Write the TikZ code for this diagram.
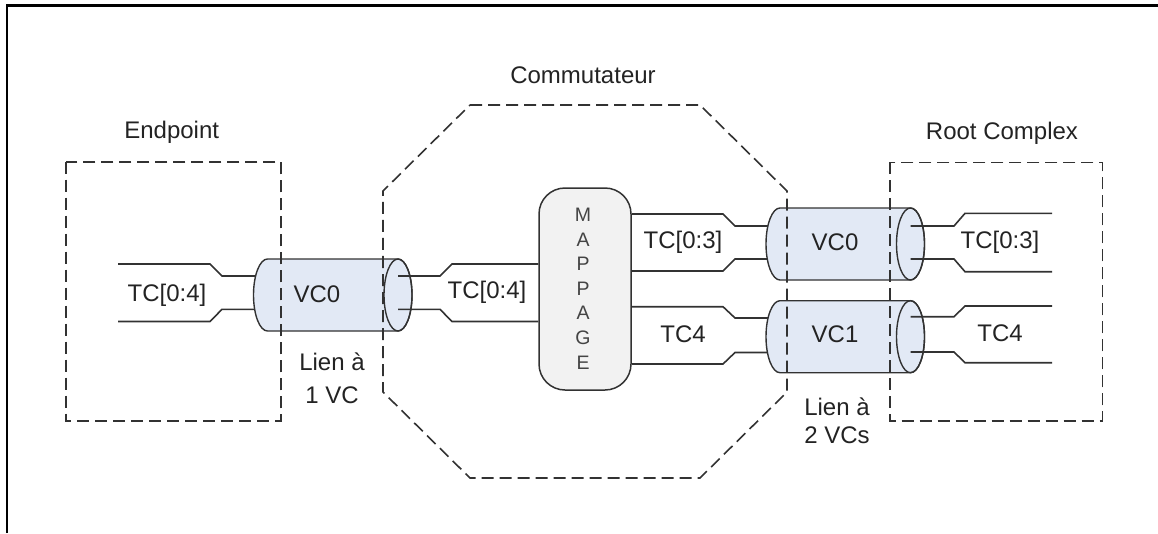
\documentclass[tikz,border=0pt]{standalone}
\usepackage{fontspec}
\setmainfont{Liberation Sans}
\definecolor{linec}{RGB}{50,50,50}
\definecolor{textc}{RGB}{35,35,35}
\definecolor{cylfill}{RGB}{226,233,245}
\definecolor{mapfill}{RGB}{242,242,242}
\newcommand\mycyl[4]{% name, xL, xR, cy
  \path[cylstyle] (#2,#4-36) -- (#3,#4-36)
    arc[start angle=-90,end angle=90,x radius=14,y radius=36]
    -- (#2,#4+36)
    arc[start angle=90,end angle=270,x radius=14,y radius=36] -- cycle;
  \draw[linec,line width=1.4pt] (#3,#4) ellipse[x radius=14,y radius=36];
  \coordinate (#1L) at (#2,#4);
  \coordinate (#1R) at (#3,#4);}
\begin{document}
\begin{tikzpicture}[x=1pt,y=-1pt,
  lin/.style={draw=linec,line width=1.6pt},
  dsh/.style={draw=linec,line width=1.6pt,dash pattern=on 12pt off 6pt},
  lbl/.style={text=textc,font=\fontsize{24}{27}\selectfont,inner sep=0pt},
  cylstyle/.style={fill=cylfill,draw=linec,line width=1.4pt}]
\useasboundingbox (0,0) rectangle (1158,533);
% frame
\draw[black,line width=2.2pt] (7.3,533) -- (7.3,5.5) -- (1158,5.5);

% incoming lines (drawn under cylinders)
\coordinate (ea) at (118,264);
\coordinate (eb) at (118,321.5);
\draw[lin] (ea) -- (210,264) -- (222,276) -- (267.5,276);
\draw[lin] (eb) -- (210,321.5) -- (222,309.3) -- (267.5,309.3);

% mappage box
\node[draw=linec,fill=mapfill,line width=1.5pt,rounded corners=26pt,
  minimum width=92pt,minimum height=202pt,inner sep=0pt] (map) at (585,289) {};
\node[text=textc!85!white,font=\fontsize{19.5}{24.6}\selectfont,align=center,inner sep=0pt]
  (maptxt) at (583,288.5) {M\\A\\P\\P\\A\\G\\E};

% lines map -> right cylinders (under cylinders)
\draw[lin] (map.east |- 0,214) -- (723,214) -- (735,226) -- (780,226);
\draw[lin] (map.east |- 0,271) -- (723,271) -- (735,259) -- (780,259);
\draw[lin] (map.east |- 0,306.7) -- (723,306.7) -- (735,318) -- (780,318);
\draw[lin] (map.east |- 0,364) -- (723,364) -- (735,352.5) -- (780,352.5);

% cylinders
\mycyl{ca}{267.5}{398}{295}
\mycyl{cb}{780}{910.5}{244}
\mycyl{cc}{780}{910.5}{336.7}

% outgoing lines
\draw[lin] (caR |- 0,276) -- (440,276) -- (452,264) -- (map.west |- 0,264);
\draw[lin] (caR |- 0,309.3) -- (440,309.3) -- (452,321.5) -- (map.west |- 0,321.5);
\draw[lin] (cbR |- 0,226) -- (954,226) -- (965,213.3) -- (1052,213.3);
\draw[lin] (cbR |- 0,259) -- (954,259) -- (965,271.7) -- (1052,271.7);
\draw[lin] (ccR |- 0,316.7) -- (954,316.7) -- (965,306) -- (1052,306);
\draw[lin] (ccR |- 0,352) -- (954,352) -- (965,362.7) -- (1052,362.7);

% dashed containers
\draw[dsh] (66,161.7) rectangle (280.7,420.7);
\draw[dsh] (890,162.3) rectangle (1102.3,420.7);
\draw[dsh] (470,105) -- (700,105) -- (787,191) -- (787,392) -- (700,478)
  -- (470,478) -- (383,392) -- (383,191) -- cycle;

% labels
\node[lbl] (tEnd) at (171.7,132.7) {Endpoint};
\node[lbl] (tCom) at (583,75) {Commutateur};
\node[lbl] (tRoot) at (1002,133) {Root Complex};
\node[lbl] (t1) at (167,295) {TC[0:4]};
\node[lbl] (t2) at (317,294) {VC0};
\node[lbl] (t3) at (487,292) {TC[0:4]};
\node[lbl] (t4) at (683,242) {TC[0:3]};
\node[lbl] (t5) at (683,334) {TC4};
\node[lbl] (t6) at (835,242) {VC0};
\node[lbl] (t7) at (835,334) {VC1};
\node[lbl] (t8) at (1000,242) {TC[0:3]};
\node[lbl] (t9) at (1000,333) {TC4};
\node[lbl] (l1a) at (332,362) {Lien à};
\node[lbl] (l1b) at (332,395) {1 VC};
\node[lbl] (l2a) at (837,406.7) {Lien à};
\node[lbl] (l2b) at (837,435) {2 VCs};
\end{tikzpicture}
\end{document}
